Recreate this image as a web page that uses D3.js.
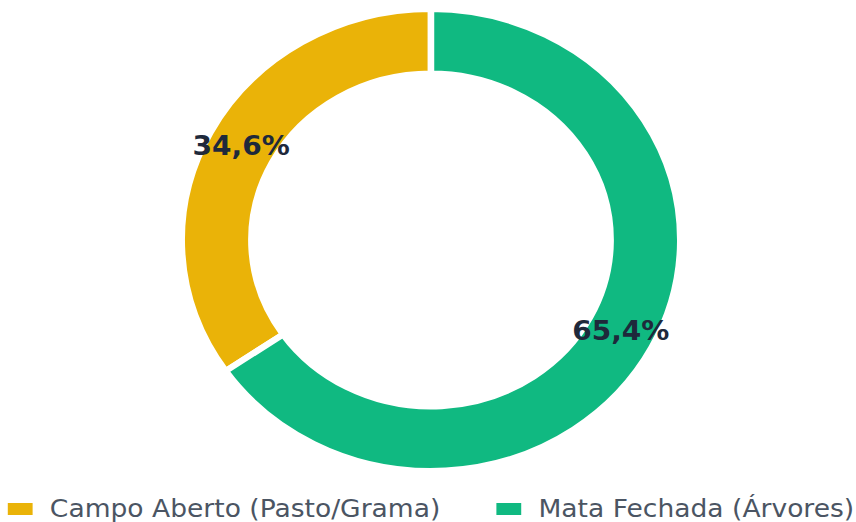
<!DOCTYPE html>
<html>
<head>
<meta charset="utf-8">
<script src="https://cdn.jsdelivr.net/npm/d3@7"></script>
<style>
  html, body { margin: 0; padding: 0; background: #fff; }
  svg { display: block; }
</style>
</head>
<body>
<div id="chart"></div>
<script>
"use strict";

const categories = ['Campo Aberto (Pasto/Grama)', 'Mata Fechada (Árvores)']
const values = [34.6, 65.4]
const colors = ['#EAB308', '#10B981']

const width = 856
    , height = 522
    , sx = 1.079   // the picture is stretched a bit horizontally
    , cx = 431
    , cy = 240
    , outerR = 231
    , innerR = 166.5

const svg = d3.select('#chart').append('svg')
  .attr('width', width)
  .attr('height', height)

const pie = d3.pie()
  .sort(null)
  .startAngle(-values[0] / 100 * 2 * Math.PI)
  .endAngle(2 * Math.PI - values[0] / 100 * 2 * Math.PI)

const arc = d3.arc()
  .innerRadius(innerR)
  .outerRadius(outerR)

const slices = pie(values)
  .map((p, i) => Object.assign(p, { name: categories[i], color: colors[i] }))

const g = svg.append('g')
  .attr('transform', `translate(${cx},${cy}) scale(${sx},1)`)

g.selectAll('path.slice')
  .data(slices)
  .enter()
  .append('path')
  .attr('class', 'slice')
  .attr('d', arc)
  .attr('fill', d => d.color)
  .attr('stroke', '#fff')
  .attr('stroke-width', 6)

const fmt = v => d3.format('.1f')(v).replace('.', ',') + '%'

g.selectAll('text.val')
  .data(slices)
  .enter()
  .append('text')
  .attr('class', 'val')
  .attr('x', d => arc.centroid(d)[0])
  .attr('y', d => arc.centroid(d)[1])
  .attr('dy', '0.3em')
  .attr('text-anchor', 'middle')
  .style('font-family', 'DejaVu Sans, sans-serif')
  .style('font-weight', 'bold')
  .style('font-size', '26px')
  .attr('fill', '#1E293B')
  .text(d => fmt(d.value))

/*
 * Legend, centred under the donut
 ***/
const BOX_W = 23, BOX_H = 12, BOX_GAP = 16, ITEM_GAP = 52
const legend = svg.append('g')
  .attr('transform', `scale(${sx},1)`)

const items = legend.selectAll('g.item')
  .data(categories)
  .enter()
  .append('g')
  .attr('class', 'item')

items.append('rect')
  .attr('width', BOX_W)
  .attr('height', BOX_H)
  .attr('y', 503)
  .attr('fill', (d, i) => colors[i])

items.append('text')
  .attr('y', 517)
  .style('font-family', 'DejaVu Sans, sans-serif')
  .style('font-size', '24.6px')
  .attr('fill', '#4B5563')
  .text(d => d)

const lens = []
items.each(function () { lens.push(d3.select(this).select('text').node().getComputedTextLength()) })
const total = d3.sum(lens, l => BOX_W + BOX_GAP + l) + ITEM_GAP * (lens.length - 1)
let x0 = (cx / sx) - total / 2
items.each(function (d, i) {
  const item = d3.select(this)
  item.select('rect').attr('x', x0)
  item.select('text').attr('x', x0 + BOX_W + BOX_GAP)
  x0 += BOX_W + BOX_GAP + lens[i] + ITEM_GAP
})
</script>
</body>
</html>
